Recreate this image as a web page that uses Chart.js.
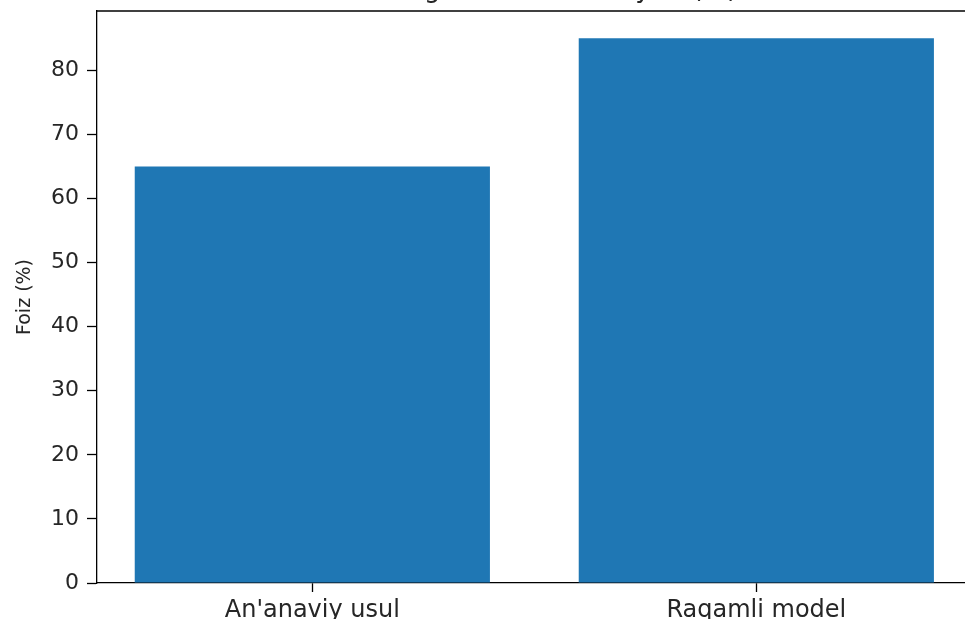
<!DOCTYPE html>
<html lang="uz">
<head>
<meta charset="utf-8">
<title>Darsdagi talabalar faoliyati</title>
<script src="https://cdn.jsdelivr.net/npm/chart.js@4.4.1/dist/chart.umd.min.js"></script>
<style>
  html, body { margin: 0; padding: 0; background: #fff; overflow: hidden; }
  #grafico { display: block; }
</style>
</head>
<body>
<canvas id="grafico" width="965" height="619"></canvas>
<script>
// Datos del gráfico
const categorias = ["An'anaviy usul", "Raqamli model"];
const valores = [65, 85];
const titulo = "Darsdagi talabalar faoliyati (%)";
const tituloEjeY = "Foiz (%)";

const colorTexto = '#262626';
const colorBarra = '#1f77b4';

// Título recortado por el borde superior + línea superior del marco
const marcoSuperior = {
  id: 'marcoSuperior',
  afterDraw(chart) {
    const { ctx, chartArea } = chart;
    const x = chart.scales.x;
    ctx.save();
    ctx.strokeStyle = '#000';
    ctx.lineWidth = 1.3;
    ctx.beginPath();
    ctx.moveTo(chartArea.left, chartArea.top);
    ctx.lineTo(chartArea.right, chartArea.top);
    ctx.stroke();

    ctx.font = '26px "DejaVu Sans"';
    ctx.fillStyle = colorTexto;
    ctx.textAlign = 'center';
    ctx.textBaseline = 'alphabetic';
    ctx.fillText(titulo, x.getPixelForValue(0.5), chartArea.top - 14);
    ctx.restore();
  }
};

new Chart(document.getElementById('grafico'), {
  type: 'bar',
  data: {
    datasets: [{
      data: valores.map((v, i) => ({ x: i, y: v })),
      backgroundColor: colorBarra,
      borderWidth: 0,
      categoryPercentage: 1,
      barPercentage: 0.8
    }]
  },
  options: {
    responsive: false,
    animation: false,
    layout: { padding: { top: 11, right: 0, left: 0, bottom: 0 } },
    plugins: {
      legend: { display: false },
      tooltip: { enabled: false }
    },
    scales: {
      x: {
        type: 'linear',
        min: -0.485,
        max: 1.47,
        offset: false,
        afterBuildTicks: s => { s.ticks = categorias.map((c, i) => ({ value: i })); },
        afterFit: s => { s.height = 36; s.paddingLeft = 0; s.paddingRight = 0; },
        grid: { offset: false, drawOnChartArea: false, drawTicks: true, tickLength: 9, tickColor: '#000', tickWidth: 1.3 },
        border: { display: true, color: '#000', width: 1.3 },
        ticks: {
          autoSkip: false,
          maxRotation: 0,
          padding: 4,
          color: colorTexto,
          font: { family: 'DejaVu Sans', size: 24 },
          callback: v => categorias[v] ?? ''
        }
      },
      y: {
        min: 0,
        max: 89.25,
        afterFit: s => { s.width = 97; s.paddingTop = 0; s.paddingBottom = 0; },
        grid: { drawOnChartArea: false, drawTicks: true, tickLength: 10, tickColor: '#000', tickWidth: 1.3 },
        border: { display: true, color: '#000', width: 1.3 },
        ticks: {
          stepSize: 10,
          includeBounds: false,
          padding: 8,
          color: colorTexto,
          font: { family: 'DejaVu Sans', size: 22 }
        },
        title: {
          display: true,
          text: tituloEjeY,
          color: colorTexto,
          font: { family: 'DejaVu Sans', size: 19 },
          padding: { top: 14, bottom: 0 }
        }
      }
    }
  },
  plugins: [marcoSuperior]
});
</script>
</body>
</html>
